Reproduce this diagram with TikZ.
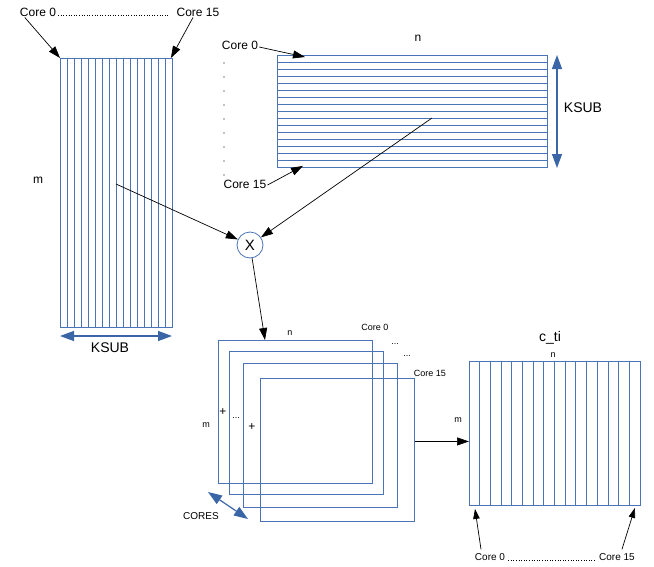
\documentclass[tikz,border=0pt]{standalone}
\usepackage{fontspec}
\setmainfont{Liberation Sans}
\usetikzlibrary{arrows.meta}
\definecolor{lb}{HTML}{4A74B6}
\definecolor{ab}{HTML}{3A66A8}
\begin{document}
\begin{tikzpicture}[x=1pt,y=-1pt,
  box/.style={draw=lb,line width=0.9pt,inner sep=0pt,anchor=north west},
  stripe/.style={draw=lb,line width=0.8pt},
  arr/.style={draw=black,line width=0.7pt,-{Triangle[length=12pt,width=8pt]}},
  sarr/.style={draw=black,line width=0.7pt,-{Triangle[length=10pt,width=6.5pt]}},
  dbl/.style={draw=ab,line width=1.2pt,{Triangle[length=14pt,width=10pt]}-{Triangle[length=14pt,width=10pt]}},
  lbl/.style={inner sep=0pt,font=\fontsize{12}{14}\selectfont},
  big/.style={inner sep=0pt,font=\fontsize{14}{16}\selectfont},
  mid/.style={inner sep=0pt,font=\fontsize{10}{12}\selectfont},
  sml/.style={inner sep=0pt,font=\fontsize{9}{11}\selectfont},
  dotline/.style={line width=0.9pt,dash pattern=on 0.9pt off 1.7pt}
]
\useasboundingbox (0,0) rectangle (654,566);

% ---------- left matrix ----------
\node[box,minimum width=112pt,minimum height=269pt] (A) at (60,58) {};
\foreach \i in {1,...,15} \draw[stripe] (60+\i*7,58) -- (60+\i*7,327);
\node[lbl] (c0t) at (38,12) {Core 0};
\node[lbl] (c15t) at (198,12) {Core 15};
\draw[dotline] ([xshift=2pt,yshift=0.5pt]c0t.base east) -- ([xshift=-8pt,yshift=0.5pt]c15t.base west);
\draw[arr] ([xshift=5pt,yshift=-1pt]c0t.south west) -- (A.north west);
\draw[arr] ([xshift=-5pt,yshift=-1pt]c15t.south) -- ([xshift=-2pt]A.north east);
\node[lbl] (mA) at (38,180) {m};
\coordinate (ksA1) at (60,336);
\coordinate (ksA2) at (172,336);
\draw[dbl] (ksA1) -- (ksA2);
\node[big] (ksubA) at (110,348) {KSUB};

% ---------- top right matrix ----------
\node[box,minimum width=270pt,minimum height=112pt] (B) at (277,55) {};
\foreach \i in {1,...,15} \draw[stripe] (277,55+\i*7) -- (547,55+\i*7);
\node[lbl] (nB) at (418,38) {n};
\node[lbl] (c0b) at (240,45) {Core 0};
\node[lbl] (c15b) at (245,184) {Core 15};
\foreach \y in {63,77,91,105,119,133,147,161,175} \fill (224,\y) circle (0.6pt);
\draw[arr] ([xshift=1pt,yshift=-2pt]c0b.east) -- ([xshift=28pt,yshift=-2pt]B.north west);
\draw[arr] ([xshift=1pt,yshift=-1pt]c15b.east) -- ([xshift=26pt,yshift=2pt]B.south west);
\coordinate (ksB1) at (557,55);
\coordinate (ksB2) at (557,168);
\draw[dbl] (ksB1) -- (ksB2);
\node[big] (ksubB) at (583,108) {KSUB};

% ---------- multiply ----------
\node[circle,draw=lb,line width=0.8pt,minimum size=26pt,inner sep=0pt,font=\fontsize{15}{17}\selectfont] (X) at (250,245) {X};
\coordinate (pA) at (116,184);
\coordinate (pB) at (432,118);
\draw[arr] (pA) -- (X);
\draw[arr] (pB) -- (X);

% ---------- stacked partial results ----------
\node[box,minimum width=154pt,minimum height=143pt] (R1) at (218,340) {};
\node[box,minimum width=154pt,minimum height=143pt] (R2) at (229,351) {};
\node[box,minimum width=154pt,minimum height=144pt] (R3) at (243,363) {};
\node[box,minimum width=154pt,minimum height=143pt] (R4) at (260,378) {};
\draw[arr] (X) -- ([xshift=47pt]R1.north west);
\node[sml] (nR) at (290,333) {n};
\node[sml] (c0R) at (375,327) {Core 0};
\node[sml] (e1) at (395,344) {...};
\node[sml] (e2) at (407,356) {...};
\node[sml] (c15R) at (430,373) {Core 15};
\node[sml] (mR) at (206,425) {m};
\node[lbl] (p1) at (223,412) {+};
\node[sml] (e3) at (236,418) {...};
\node[lbl] (p2) at (252,427) {+};
\coordinate (cr1) at (208,492);
\coordinate (cr2) at (248,519);
\draw[dbl] (cr1) -- (cr2);
\node[mid] (cores) at (201,516) {CORES};

% ---------- c_ti ----------
\node[box,minimum width=171pt,minimum height=144pt] (C) at (469,361) {};
\foreach \i in {1,...,15} \draw[stripe] (469+\i*10.6875,361) -- (469+\i*10.6875,505);
\draw[arr] ([yshift=8.5pt]R4.east) -- ([yshift=-8pt]C.west);
\node[big] (cti) at (550,338) {c\_ti};
\node[sml] (nC) at (553,355) {n};
\node[sml] (mC) at (458,420) {m};
\node[mid] (c0C) at (490,557) {Core 0};
\node[mid] (c15C) at (617,557) {Core 15};
\draw[dotline] ([xshift=3pt,yshift=0.5pt]c0C.base east) -- ([xshift=-4pt,yshift=0.5pt]c15C.base west);
\draw[sarr] ([xshift=-9pt,yshift=4pt]c0C.north) -- ([xshift=6pt,yshift=-3pt]C.south west);
\draw[sarr] ([xshift=5pt,yshift=4pt]c15C.north) -- ([xshift=-6pt,yshift=-2pt]C.south east);
\end{tikzpicture}
\end{document}
